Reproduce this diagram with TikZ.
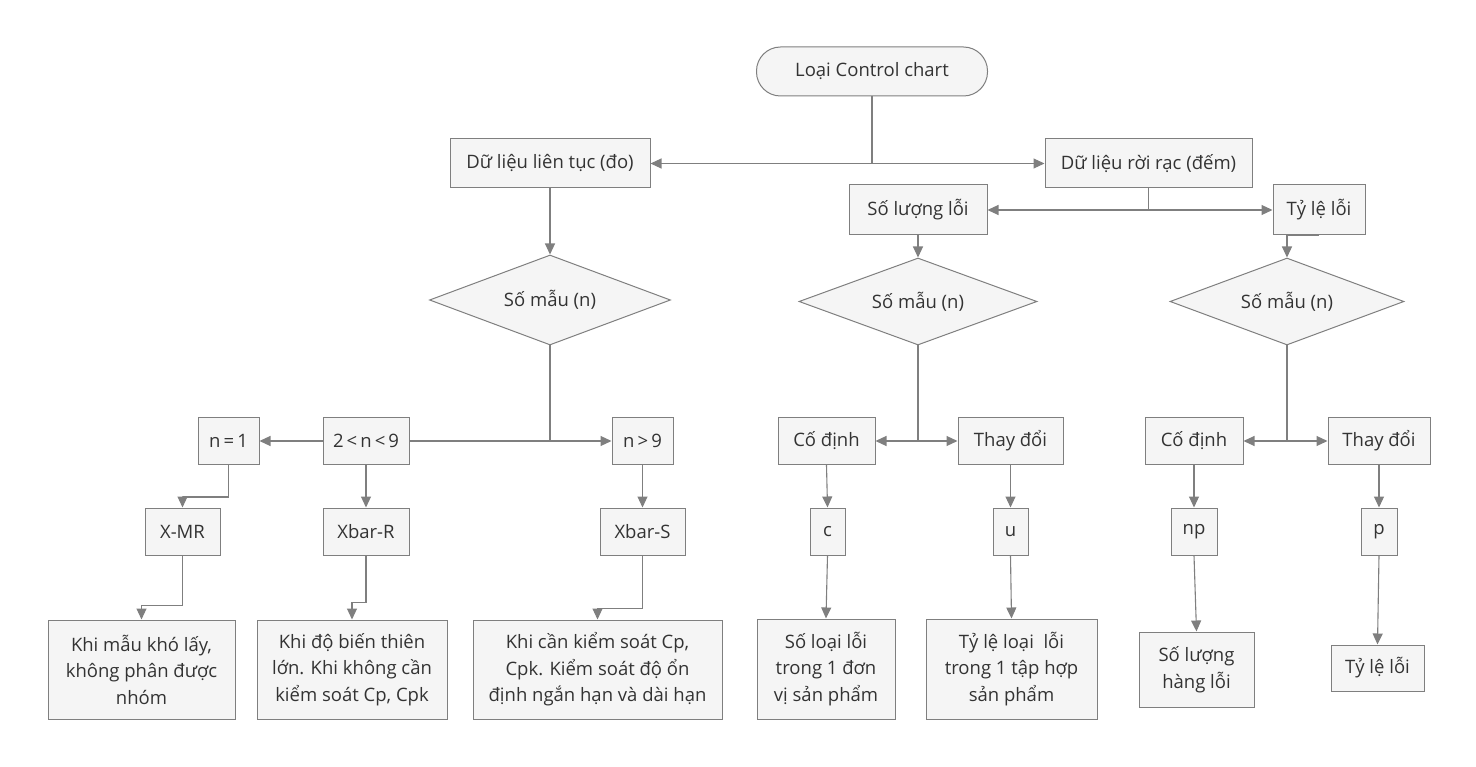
\documentclass[tikz,border=0pt]{standalone}
\usepackage{fontspec}
\setmainfont{Open Sans}
\usepackage{tikz}
\usetikzlibrary{arrows,arrows.meta,shapes,positioning}
\definecolor{linegray}{HTML}{7F7F7F}
\definecolor{boxgray}{HTML}{F5F5F5}
\definecolor{txtgray}{HTML}{333333}

\begin{document}
\begin{tikzpicture}[x=1pt,y=-1pt,>={Triangle[length=11pt,width=10pt]},
    every node/.style={font=\fontsize{18.5}{26.5}\selectfont,text=txtgray},
    box/.style={draw=linegray,fill=boxgray,rectangle,inner sep=0pt,align=center,line width=1pt},
    size/.style 2 args={minimum width=#1,minimum height=#2},
    start/.style={box,rounded corners=24pt,size={231pt}{49pt}},
    choice/.style={draw=linegray,fill=boxgray,diamond,shape aspect=2.7,inner sep=0pt,line width=1pt},
    conn/.style={draw=linegray,line width=1.1pt}]
    \useasboundingbox (0,0) rectangle (1476,767);
    \path
        (872,71.5)    node [start]                    (loai) {Loại Control chart}
        (550,163.5)   node [box,size={200pt}{49pt}]   (lientuc) {Dữ liệu liên tục (đo)}
        (1148.5,163.5) node [box,size={207pt}{49pt}]  (roirac) {Dữ liệu rời rạc (đếm)}
        (918,210)     node [box,size={138pt}{50pt}]   (soluong) {Số lượng lỗi}
        (1319,210)    node [box,size={92pt}{50pt}]    (tyle) {Tỷ lệ lỗi}
        (550,300)     node [choice,size={241pt}{90pt}] (mau1) {Số mẫu (n)}
        (918,301.5)   node [choice,size={238pt}{87pt}] (mau2) {Số mẫu (n)}
        (1287,301.5)  node [choice,size={234pt}{87pt}] (mau3) {Số mẫu (n)}
        (228.5,441)   node [box,size={61pt}{47pt}]    (nmot) {n\,=\,1}
        (366,441)     node [box,size={86pt}{47pt}]    (nhai) {2\,<\,n\,<\,9}
        (642.5,441)   node [box,size={61pt}{47pt}]    (nchin) {n\,>\,9}
        (826.5,441)   node [box,size={97pt}{47pt}]    (codinh) {Cố định}
        (1010.5,441)  node [box,size={105pt}{47pt}]   (thaydoi) {Thay đổi}
        (1194,441)    node [box,size={98pt}{47pt}]    (codinhb) {Cố định}
        (1379,441)    node [box,size={102pt}{47pt}]   (thaydoib) {Thay đổi}
        (182.5,531.5) node [box,size={75pt}{47pt}]    (xmr) {X-MR}
        (366,531.5)   node [box,size={86pt}{47pt}]    (xbarr) {Xbar-R}
        (642.5,531.5) node [box,size={85pt}{47pt}]    (xbars) {Xbar-S}
        (827.5,531.5) node [box,size={35pt}{47pt}]    (cc) {c}
        (1010.5,531.5) node [box,size={35pt}{47pt}]   (uu) {u}
        (1194,531.5)  node [box,size={46pt}{47pt}]    (np) {np}
        (1379,531.5)  node [box,size={36pt}{47pt}]    (pp) {p}
        (141.5,669.5) node [box,size={187pt}{99pt}]   (khimot) {Khi mẫu khó lấy,\\không phân được\\nhóm}
        (352,669.5)   node [box,size={190pt}{99pt}]   (khihai) {Khi độ biến thiên\\lớn. Khi không cần\\kiểm soát Cp, Cpk}
        (597.5,669.5) node [box,size={249pt}{99pt}]   (khiba) {Khi cần kiểm soát Cp,\\Cpk. Kiểm soát độ ổn\\định ngắn hạn và dài hạn}
        (826,669)     node [box,size={138pt}{100pt}]  (soloai) {Số loại lỗi\\trong 1 đơn\\vị sản phẩm}
        (1011.5,669)  node [box,size={171pt}{100pt}]  (tyleloai) {Tỷ lệ loại~ lỗi\\trong 1 tập hợp\\sản phẩm}
        (1196.5,669.5) node [box,size={115pt}{75pt}]  (hangloi) {Số lượng\\hàng lỗi}
        (1377.5,668)  node [box,size={93pt}{46pt}]    (tyleloi) {Tỷ lệ lỗi}
        ;
    % top levels
    \draw [conn,->] (loai.south) |- (lientuc.east);
    \draw [conn,->] (loai.south) |- (roirac.west);
    \draw [conn,->] (roirac.south) |- (soluong.east);
    \draw [conn,->] (roirac.south) |- (tyle.west);
    \draw [conn,->] (lientuc.south) -- (mau1.north);
    \draw [conn,->] (soluong.south) -- (mau2.north);
    \draw [conn,->] (tyle.south) -| (mau3.north);
    % sample size
    \draw [conn,->] (mau1.south) |- (nchin.west);
    \draw [conn] (mau1.south) |- (nhai.east);
    \draw [conn,->] (nhai.west) -- (nmot.east);
    \draw [conn,->] (mau2.south) |- (codinh.east);
    \draw [conn,->] (mau2.south) |- (thaydoi.west);
    \draw [conn,->] (mau3.south) |- (codinhb.east);
    \draw [conn,->] (mau3.south) |- (thaydoib.west);
    % charts
    \draw [conn,->] (nmot.south) -- ++(0,32) -| (xmr.north);
    \draw [conn,->] (nhai.south) -- (xbarr.north);
    \draw [conn,->] (nchin.south) -- (xbars.north);
    \draw [conn,->] (codinh.south) -- (cc.north);
    \draw [conn,->] (thaydoi.south) -- (uu.north);
    \draw [conn,->] (codinhb.south) -- (np.north);
    \draw [conn,->] (thaydoib.south) -- (pp.north);
    % usage
    \draw [conn,->] (xmr.south) -- ++(0,50) -| (khimot.north);
    \draw [conn,->] (xbarr.south) -- ++(0,47) -| (khihai.north);
    \draw [conn,->] (xbars.south) -- ++(0,53) -| (khiba.north);
    \draw [conn,->] (cc.south) -- (soloai.north);
    \draw [conn,->] (uu.south) -- (tyleloai.north);
    \draw [conn,->] (np.south) -- (hangloi.north);
    \draw [conn,->] (pp.south) -- (tyleloi.north);
\end{tikzpicture}
\end{document}
